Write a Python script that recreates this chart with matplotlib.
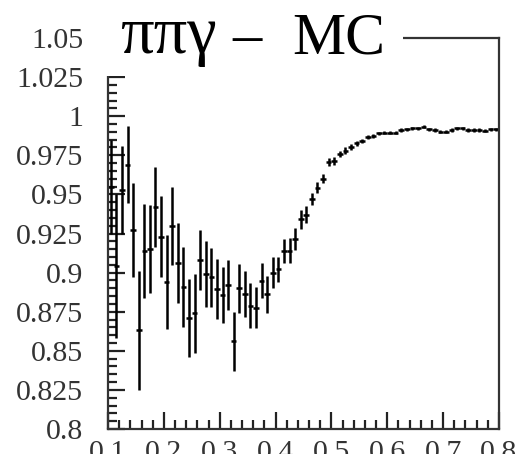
import numpy as np
import matplotlib
matplotlib.use('Agg')
import matplotlib.pyplot as plt
from matplotlib.patches import Rectangle
from matplotlib.ticker import MultipleLocator

# efficiency histogram, 70 bins from 0.1 to 0.8
bin_lo = 0.1
bin_hi = 0.8
n_bins = 70

eff = [0.955, 0.904, 0.953, 0.969, 0.927, 0.863, 0.914, 0.915, 0.942, 0.923,
       0.894, 0.930, 0.906, 0.891, 0.871, 0.874, 0.908, 0.899, 0.897, 0.8896,
       0.8857, 0.8923, 0.8561, 0.890, 0.8865, 0.8788, 0.8775, 0.8948, 0.886, 0.8999,
       0.902, 0.9136, 0.9141, 0.9214, 0.934, 0.937, 0.947, 0.9544, 0.960, 0.9707,
       0.9716, 0.9756, 0.978, 0.9805, 0.9827, 0.9842, 0.9865, 0.9873, 0.989, 0.9895,
       0.9895, 0.9895, 0.9912, 0.9916, 0.9922, 0.9922, 0.9932, 0.9916, 0.9912, 0.9901,
       0.9901, 0.9912, 0.9922, 0.9922, 0.9912, 0.9912, 0.9912, 0.9907, 0.9916, 0.9916]

eff_err = [0.030, 0.046, 0.028, 0.0245, 0.030, 0.038, 0.030, 0.028, 0.0256, 0.026,
           0.030, 0.025, 0.0255, 0.0256, 0.0247, 0.0254, 0.0194, 0.021, 0.019, 0.019,
           0.0177, 0.016, 0.019, 0.0158, 0.0147, 0.0144, 0.0131, 0.0112, 0.0117, 0.0099,
           0.0079, 0.0077, 0.0078, 0.0069, 0.0059, 0.0055, 0.0037, 0.0037, 0.003, 0.0025,
           0.0025, 0.002, 0.002, 0.0018, 0.0016, 0.0015, 0.0013, 0.0012, 0.0011, 0.001,
           0.001, 0.001, 0.001, 0.001, 0.001, 0.001, 0.001, 0.001, 0.001, 0.001,
           0.001, 0.001, 0.001, 0.001, 0.001, 0.001, 0.001, 0.001, 0.001, 0.001]

yticks = [0.8, 0.825, 0.85, 0.875, 0.9, 0.925, 0.95, 0.975, 1.0, 1.025, 1.05]
ytick_labels = ['0.8', '0.825', '0.85', '0.875', '0.9', '0.925', '0.95',
                '0.975', '1', '1.025', '1.05']
xticks = [0.1, 0.2, 0.3, 0.4, 0.5, 0.6, 0.7, 0.8]
xtick_labels = ['0.1', '0.2', '0.3', '0.4', '0.5', '0.6', '0.7', '0.8']
title_parts = ['\u03c0\u03c0\u03b3', '\u2013', 'MC']

edges = np.linspace(bin_lo, bin_hi, n_bins + 1)
centers = 0.5 * (edges[:-1] + edges[1:])
half_w = 0.5 * (edges[1] - edges[0])

plt.rcParams['font.family'] = ['Liberation Serif', 'DejaVu Serif']

fig = plt.figure(figsize=(5.19, 4.54), dpi=100)
ax = fig.add_axes([108 / 519, 25 / 454, 391 / 519, 391 / 454])

ax.errorbar(centers, eff, yerr=eff_err, xerr=half_w, fmt='none',
            ecolor='black', elinewidth=1.8, capsize=0)

ax.set_xlim(bin_lo, bin_hi)
ax.set_ylim(0.8, 1.05)
ax.set_xticks(xticks)
ax.set_xticklabels(xtick_labels)
ax.set_yticks(yticks)
ax.set_yticklabels(ytick_labels)
ax.xaxis.set_minor_locator(MultipleLocator(0.02))
ax.yaxis.set_minor_locator(MultipleLocator(0.005))

ax.tick_params(which='both', direction='in', width=1.6, colors='#222222',
               labelsize=21.5, labelcolor='#333333')
ax.tick_params(which='major', length=12.2)
ax.tick_params(which='minor', length=6.5)
ax.tick_params(axis='y', pad=18)
ax.tick_params(axis='x', pad=8)
for s in ax.spines.values():
    s.set_linewidth(1.6)
    s.set_color('#333333')

# title pave covers the upper left part of the frame
ax.add_patch(Rectangle((-0.035, 0.904), 0.79, 0.2, transform=ax.transAxes,
                       facecolor='white', edgecolor='none', clip_on=False,
                       zorder=10))
title_y = 1 - 53 / 454
for txt, px, fs in zip(title_parts, [120, 232, 292], [48, 42, 43]):
    fig.text(px / 519, title_y, txt, fontsize=fs, ha='left',
             va='baseline', color='black', zorder=11)

fig.savefig('out.png', dpi=100)
